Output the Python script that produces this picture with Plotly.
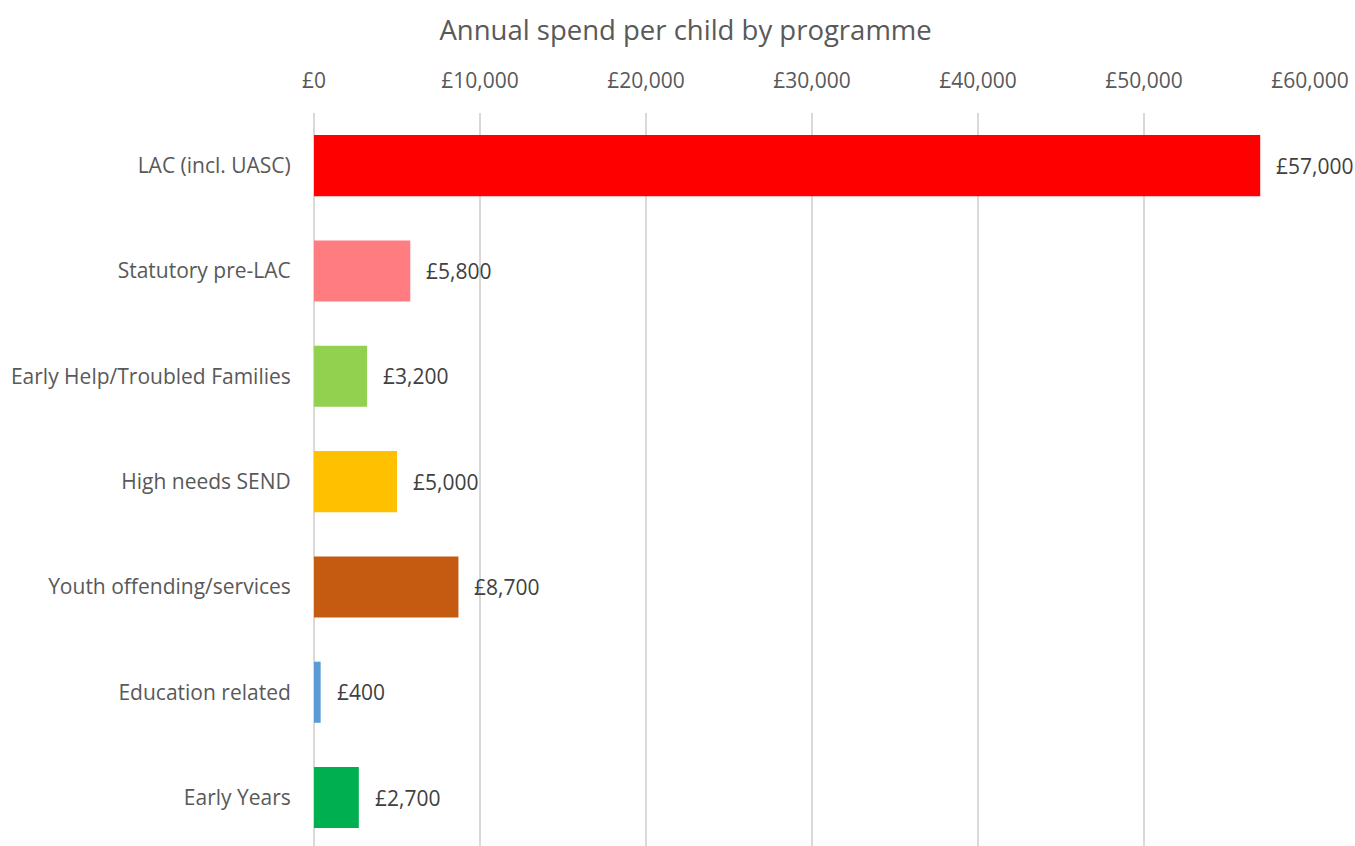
import plotly.graph_objects as go

# Programme categories, top to bottom
programmes = [
    "LAC (incl. UASC)",
    "Statutory pre-LAC",
    "Early Help/Troubled Families",
    "High needs SEND",
    "Youth offending/services",
    "Education related",
    "Early Years",
]
spend_per_child = [57000, 5800, 3200, 5000, 8700, 400, 2700]
bar_colours = ["#FF0000", "#FF7C80", "#92D050", "#FFC000", "#C55A11", "#5B9BD5", "#00B050"]
tick_values = [0, 10000, 20000, 30000, 40000, 50000, 60000]
tick_labels = ["£0", "£10,000", "£20,000", "£30,000", "£40,000", "£50,000", "£60,000"]

FONT = "Open Sans"

fig = go.Figure(
    go.Bar(
        x=spend_per_child,
        y=programmes,
        orientation="h",
        marker=dict(color=bar_colours, line=dict(width=0)),
        width=0.58,
        hoverinfo="skip",
    )
)

# Value labels just beyond each bar end
for name, val in zip(programmes, spend_per_child):
    fig.add_annotation(
        x=val, y=name, xref="x", yref="y",
        text=f"£{val:,}", showarrow=False,
        xanchor="left", yanchor="middle", xshift=14,
        font=dict(family=FONT, size=21, color="#404040"),
    )

fig.update_layout(
    width=1355, height=846,
    margin=dict(l=314, r=45, t=113, b=0),
    paper_bgcolor="white", plot_bgcolor="white",
    showlegend=False,
    title=dict(
        text="Annual spend per child by programme",
        x=0.506, xanchor="center", y=1 - 30 / 846, yanchor="middle",
        font=dict(family=FONT, size=27.5, color="#595959"),
    ),
    xaxis=dict(
        side="top", range=[0, 60000],
        tickvals=tick_values, ticktext=tick_labels,
        tickfont=dict(family=FONT, size=21, color="#595959"),
        ticks="outside", ticklen=16, tickcolor="rgba(0,0,0,0)",
        showgrid=True, gridcolor="#D9D9D9", gridwidth=1.5,
        zeroline=True, zerolinecolor="#D9D9D9", zerolinewidth=1.5,
        showline=False, fixedrange=True,
    ),
    yaxis=dict(
        categoryorder="array", categoryarray=programmes,
        range=[6.46, -0.5],
        tickfont=dict(family=FONT, size=21, color="#595959"),
        ticks="outside", ticklen=18, tickcolor="rgba(0,0,0,0)",
        showgrid=False, zeroline=False, showline=False, fixedrange=True,
    ),
)

fig.write_html("out.html")
